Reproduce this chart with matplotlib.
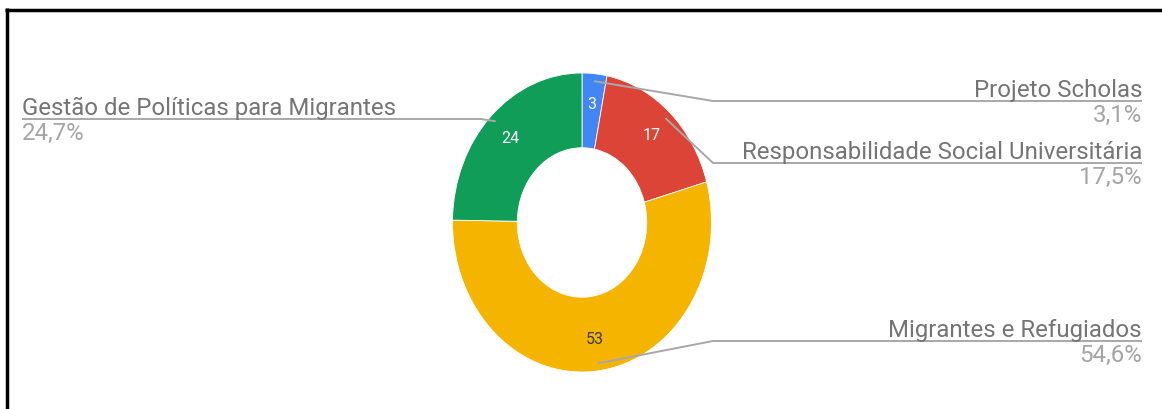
import numpy as np
import matplotlib
matplotlib.use("Agg")
from matplotlib import pyplot as plt

plt.rcParams['font.family'] = ['Roboto', 'DejaVu Sans']

# Projects and number of actions per project
projects = ["Projeto Scholas", "Responsabilidade Social Universitária",
            "Migrantes e Refugiados", "Gestão de Políticas para Migrantes"]
counts = [3, 17, 53, 24]
colors = ["#4285f4", "#db4437", "#f4b400", "#0f9d58"]
value_colors = ["white", "white", "#3a3a3a", "white"]

# label placement in figure pixels: (side, y of the underline)
label_side = ["right", "right", "right", "left"]
label_line_y = [101, 163, 341, 119]

W, H = 1162, 409
fig = plt.figure(figsize=(W / 100, H / 100), dpi=100)

# the donut lives in its own axes, slightly taller than wide
cx, cy, rx, ry = 582, 222.5, 129.5, 149.5
pie_ax = fig.add_axes([(cx - rx) / W, (H - cy - ry) / H, 2 * rx / W, 2 * ry / H])
wedges, _ = pie_ax.pie(counts, colors=colors, startangle=90, counterclock=False,
                       radius=1, wedgeprops=dict(width=0.5, edgecolor="white", linewidth=0.6))
pie_ax.set_aspect("auto")
pie_ax.set_xlim(-1, 1)
pie_ax.set_ylim(-1, 1)
pie_ax.axis("off")

# overlay axes in pixel coordinates for labels and leader lines
ax = fig.add_axes([0, 0, 1, 1])
ax.set_xlim(0, W)
ax.set_ylim(H, 0)
ax.axis("off")

to_px = pie_ax.transData + ax.transData.inverted()
total = sum(counts)

for w, name, n, vc, side, ly in zip(wedges, projects, counts, value_colors,
                                     label_side, label_line_y):
    mid = np.deg2rad((w.theta1 + w.theta2) / 2)
    # value inside the ring
    r_in = 0.79
    pie_ax.text(r_in * np.cos(mid), r_in * np.sin(mid), str(n), color=vc,
                ha="center", va="center", fontsize=11.5)
    # leader line from the slice to the label
    sx, sy = to_px.transform((0.95 * np.cos(mid), 0.95 * np.sin(mid)))
    if side == "right":
        xs = [sx, 713, 1142]
        tx, ha = 1142, "right"
    else:
        xs = [sx, sx - 15, 22]
        tx, ha = 22, "left"
    ax.plot(xs, [sy, ly, ly], color="#a8a8a8", lw=1.4, solid_capstyle="butt")
    pct = f"{100 * n / total:.1f}%".replace(".", ",")
    ax.text(tx, ly - 4, name, ha=ha, va="baseline", fontsize=17.3, color="#757575")
    ax.text(tx, ly + 3, pct, ha=ha, va="top", fontsize=17.3, color="#a5a5a5")

# frame edges along the top and left
ax.plot([5, W], [9.5, 9.5], color="black", lw=2.5, solid_capstyle="butt")
ax.plot([6.5, 6.5], [8, H], color="black", lw=2.5, solid_capstyle="butt")

fig.savefig("out.png", dpi=100, facecolor="white")
